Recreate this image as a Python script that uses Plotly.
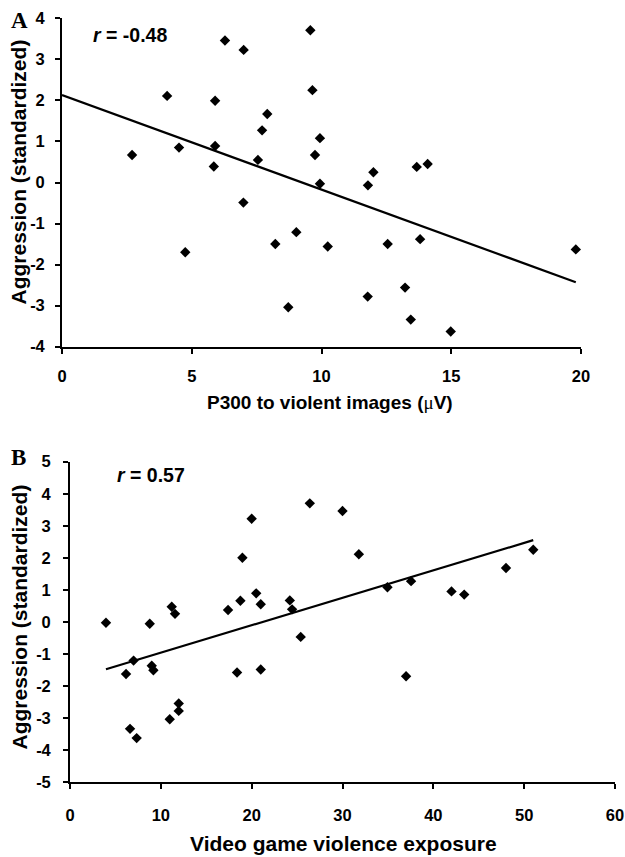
import plotly.graph_objects as go

W, H = 625, 857

# ---- Panel A data: P300 to violent images (uV) vs aggression ----
a_x = [2.70, 4.05, 4.51, 5.90, 5.90, 5.85, 6.28, 7.00, 7.55, 7.71, 7.91, 9.57, 9.65,
       9.75, 9.94, 9.94, 12.00, 11.79, 13.67, 14.09, 6.99, 4.75, 8.22, 9.03, 8.72,
       10.24, 12.55, 13.80, 19.80, 13.22, 11.78, 13.44, 14.98]
a_y = [0.67, 2.11, 0.85, 1.99, 0.89, 0.39, 3.46, 3.23, 0.55, 1.27, 1.67, 3.71, 2.25,
       0.67, 1.08, -0.03, 0.25, -0.07, 0.38, 0.45, -0.49, -1.70, -1.50, -1.21, -3.04,
       -1.56, -1.50, -1.38, -1.63, -2.56, -2.78, -3.34, -3.63]
a_fit_x = [0.0, 19.8]
a_fit_y = [2.13, -2.43]
a_xticks = [0, 5, 10, 15, 20]
a_yticks = [-4, -3, -2, -1, 0, 1, 2, 3, 4]

# ---- Panel B data: video game violence exposure vs aggression ----
b_x = [3.96, 8.78, 11.20, 11.56, 17.40, 18.76, 18.98, 20.00, 20.50, 21.00, 24.20, 24.45,
       26.40, 25.40, 30.00, 31.80, 34.95, 37.55, 42.00, 43.40, 48.00, 51.00, 7.00, 6.17,
       9.00, 9.18, 6.61, 7.34, 10.98, 11.97, 11.97, 18.39, 21.00, 37.00]
b_y = [-0.03, -0.06, 0.47, 0.25, 0.37, 0.66, 2.00, 3.22, 0.89, 0.55, 0.67, 0.39,
       3.70, -0.47, 3.46, 2.11, 1.08, 1.27, 0.95, 0.85, 1.68, 2.25, -1.21, -1.63,
       -1.37, -1.51, -3.34, -3.63, -3.04, -2.55, -2.78, -1.58, -1.49, -1.70]
b_fit_x = [3.96, 51.0]
b_fit_y = [-1.48, 2.55]
b_xticks = [0, 10, 20, 30, 40, 50, 60]
b_yticks = [-5, -4, -3, -2, -1, 0, 1, 2, 3, 4, 5]

FONT = "Liberation Sans, Arial, Helvetica, sans-serif"
SERIF = "Liberation Serif, Times New Roman, serif"


def px(x):
    return x / W


def py(y):
    return 1 - y / H


def labels(vals):
    return ["<b>%d</b>" % v for v in vals]


fig = go.Figure()

marker = dict(symbol="diamond", size=8, color="black", line=dict(width=0))
fig.add_trace(go.Scatter(x=a_x, y=a_y, mode="markers", marker=marker,
                         xaxis="x", yaxis="y", cliponaxis=False, showlegend=False))
fig.add_trace(go.Scatter(x=a_fit_x, y=a_fit_y, mode="lines",
                         line=dict(color="black", width=2.2),
                         xaxis="x", yaxis="y", showlegend=False))
fig.add_trace(go.Scatter(x=b_x, y=b_y, mode="markers", marker=marker,
                         xaxis="x2", yaxis="y2", cliponaxis=False, showlegend=False))
fig.add_trace(go.Scatter(x=b_fit_x, y=b_fit_y, mode="lines",
                         line=dict(color="black", width=2.2),
                         xaxis="x2", yaxis="y2", showlegend=False))

tickfont = dict(family=FONT, size=16.5, color="black")
axis_common = dict(showline=True, linecolor="black", linewidth=1.8,
                   ticks="outside", ticklen=5, tickwidth=1.5, tickcolor="black",
                   showgrid=False, zeroline=False, tickfont=tickfont,
                   ticklabeloverflow="allow", automargin=False)

fig.update_layout(
    width=W, height=H, autosize=False,
    margin=dict(l=0, r=0, t=0, b=0, autoexpand=False),
    paper_bgcolor="white", plot_bgcolor="white",
    xaxis=dict(domain=[px(62), px(581)], range=[0, 20], tickvals=a_xticks,
               ticktext=labels(a_xticks),
               anchor="y", ticklabelstandoff=9, **axis_common),
    yaxis=dict(domain=[py(346.7), py(18.3)], range=[-4, 4], tickvals=a_yticks,
               ticktext=labels(a_yticks),
               anchor="x", ticklabelstandoff=7, **axis_common),
    xaxis2=dict(domain=[px(70), px(615)], range=[0, 60], tickvals=b_xticks,
                ticktext=labels(b_xticks),
                anchor="y2", ticklabelstandoff=12, **axis_common),
    yaxis2=dict(domain=[py(782), py(461.7)], range=[-5, 5], tickvals=b_yticks,
                ticktext=labels(b_yticks),
                anchor="x2", ticklabelstandoff=9, **axis_common),
)

ann = []


def add_text(text, x, y, size, family=FONT, weight="bold", angle=0):
    ann.append(dict(text=text, x=px(x), y=py(y), xref="paper", yref="paper",
                    showarrow=False, xanchor="center", yanchor="middle",
                    textangle=angle,
                    font=dict(family=family, size=size, color="black", weight=weight)))


add_text("A", 19.5, 20, 23, family=SERIF)
add_text("B", 18.5, 457.5, 23, family=SERIF)
add_text("<i>r</i> = -0.48", 130, 35, 19.5)
add_text("<i>r</i> = 0.57", 151, 475, 19.5)
add_text("Aggression (standardized)", 18.5, 172, 21, angle=-90)
add_text("Aggression (standardized)", 19, 617.5, 21, angle=-90)
add_text("P300 to violent images (<span style=\"font-family:'Liberation Serif';font-weight:normal\">μ</span>V)",
         330, 403, 19)
add_text("Video game violence exposure", 343, 843, 21)

fig.update_layout(annotations=ann)

fig.write_html(
    "out.html",
    config={"displayModeBar": False},
    post_script="document.body.style.margin='0';document.body.style.padding='0';"
                "document.documentElement.style.overflow='hidden';",
)
